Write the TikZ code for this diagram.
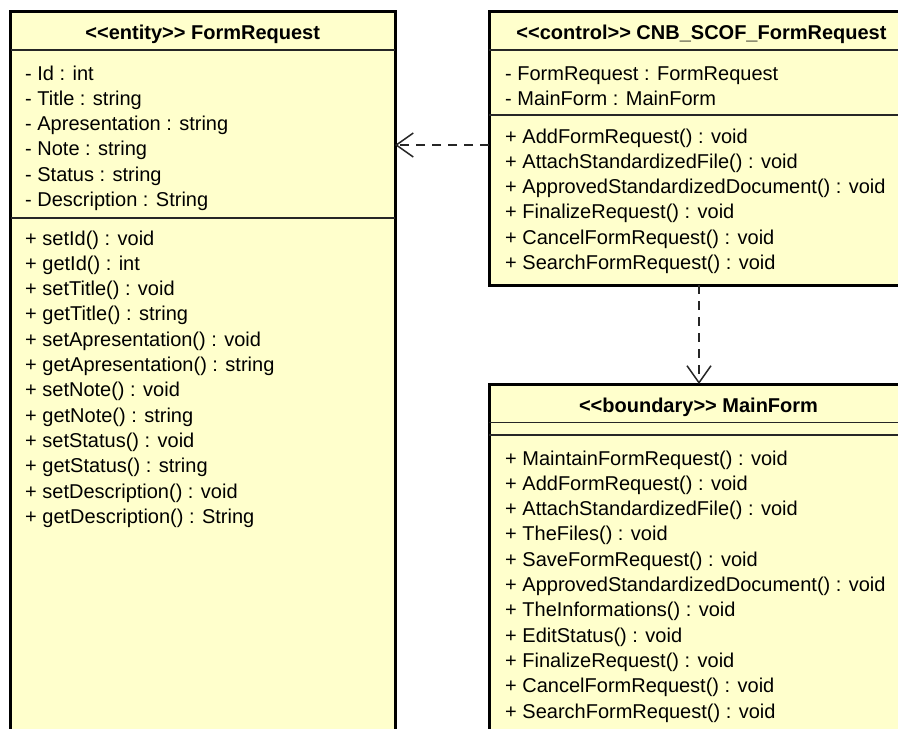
\documentclass[tikz,border=0pt]{standalone}
\usepackage{fontspec}
\setmainfont{Liberation Sans}
\usetikzlibrary{arrows.meta}
\definecolor{classfill}{HTML}{FFFFCC}
% stereotype guillemets typed as two angle brackets each
\newcommand{\stereo}[1]{<\kern0pt<#1>\kern0pt>}

\begin{document}
\begin{tikzpicture}[x=1pt,y=-1pt,
  classbox/.style={draw=black, line width=3pt, fill=classfill, rectangle,
    inner sep=0pt, outer sep=0pt, anchor=north west},
  sepline/.style={draw=black!85, line width=1.5pt},
  member/.style={anchor=base west, inner sep=0pt, font=\fontsize{20}{24}\selectfont},
  classname/.style={anchor=base, inner sep=0pt, font=\fontsize{20}{24}\selectfont\bfseries},
  dep/.style={draw=black!85, line width=1.5pt, dash pattern=on 9pt off 7pt,
    -{Straight Barb[length=17pt,width=24pt,line width=1.5pt]}}
]
\useasboundingbox (0,0) rectangle (898,729);
\clip (0,0) rectangle (898,729);
\fill[white] (0,0) rectangle (898,729);

% ---------- entity class ----------
\node[classbox, minimum width=384.5pt, minimum height=740pt] (entity) at (10.5,11.5) {};
\draw[sepline] (entity.west |- 0,50) -- (entity.east |- 0,50);
\draw[sepline] (entity.west |- 0,218) -- (entity.east |- 0,218);
\node[classname] (entity-name) at (202.75,39.5) {\stereo{entity} FormRequest};
\foreach \t [count=\i from 0] in {- Id : int, - Title : string, - Apresentation : string,
    - Note : string, - Status : string, - Description : String}
  \node[member] (entity-a\i) at (25,80+25.3*\i) {\t};
\foreach \t [count=\i from 0] in {+ setId() : void, + getId() : int, + setTitle() : void,
    + getTitle() : string, + setApresentation() : void, + getApresentation() : string,
    + setNote() : void, + getNote() : string, + setStatus() : void,
    + getStatus() : string, + setDescription() : void, + getDescription() : String}
  \node[member] (entity-m\i) at (25,245+25.3*\i) {\t};

% ---------- control class ----------
\node[classbox, minimum width=425pt, minimum height=273.5pt] (ctrl) at (489,11.5) {};
\draw[sepline] (ctrl.west |- 0,50) -- (ctrl.east |- 0,50);
\draw[sepline] (ctrl.west |- 0,115) -- (ctrl.east |- 0,115);
\node[classname] (ctrl-name) at (701.5,39.5) {\stereo{control} CNB\_SCOF\_FormRequest};
\foreach \t [count=\i from 0] in {- FormRequest : FormRequest, - MainForm : MainForm}
  \node[member] (ctrl-a\i) at (505,80+25.3*\i) {\t};
\foreach \t [count=\i from 0] in {+ AddFormRequest() : void, + AttachStandardizedFile() : void,
    + ApprovedStandardizedDocument() : void, + FinalizeRequest() : void,
    + CancelFormRequest() : void, + SearchFormRequest() : void}
  \node[member] (ctrl-m\i) at (505,143+25.3*\i) {\t};

% ---------- boundary class ----------
\node[classbox, minimum width=419pt, minimum height=360pt] (form) at (489,384) {};
\draw[sepline] (form.west |- 0,422.5) -- (form.east |- 0,422.5);
\draw[sepline] (form.west |- 0,435) -- (form.east |- 0,435);
\node[classname] (form-name) at (698.5,412) {\stereo{boundary} MainForm};
\foreach \t [count=\i from 0] in {+ MaintainFormRequest() : void, + AddFormRequest() : void,
    + AttachStandardizedFile() : void, + TheFiles() : void, + SaveFormRequest() : void,
    + ApprovedStandardizedDocument() : void, + TheInformations() : void,
    + EditStatus() : void, + FinalizeRequest() : void, + CancelFormRequest() : void,
    + SearchFormRequest() : void}
  \node[member] (form-m\i) at (505,465+25.3*\i) {\t};

% ---------- dependencies ----------
\draw[dep] (ctrl.west |- 0,145) -- (entity.east |- 0,145);
\draw[dep] (ctrl.south -| 699,0) -- (form.north -| 699,0);
\end{tikzpicture}
\end{document}
